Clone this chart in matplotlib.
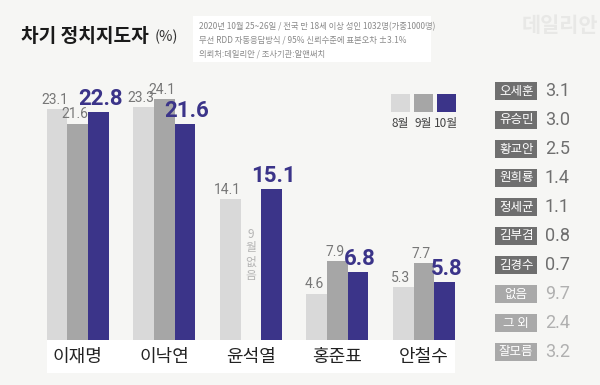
import numpy as np
import matplotlib
matplotlib.use('Agg')
import matplotlib.pyplot as plt
from matplotlib.patches import Rectangle

plt.rcParams['font.family'] = ['Noto Sans CJK KR', 'DejaVu Sans']

# main chart data
candidates = ['이재명', '이낙연', '윤석열', '홍준표', '안철수']
aug = [23.1, 23.3, 14.1, 4.6, 5.3]
sep = [21.6, 24.1, None, 7.9, 7.7]   # 윤석열: 9월 없음
octo = [22.8, 21.6, 15.1, 6.8, 5.8]
months = ['8월', '9월', '10월']

# right side list
others = ['오세훈', '유승민', '황교안', '원희룡', '정세균', '김부겸', '김경수', '없음', '그 외', '잘모름']
others_val = [3.1, 3.0, 2.5, 1.4, 1.1, 0.8, 0.7, 9.7, 2.4, 3.2]

bg = '#f6f6f4'
c_light = '#d9d9d9'
c_mid = '#a6a6a6'
c_navy = '#3b3489'
c_num = '#777777'

W, H = 600, 385
fig = plt.figure(figsize=(6, 3.85), dpi=100, facecolor=bg)


def fx(x):
    return x / W


def fy(y):
    return 1 - y / H


# title
fig.text(fx(21), fy(36), '차기 정치지도자', fontsize=13.8, fontweight='bold',
         color='#1a1a1a', va='center', ha='left')
fig.text(fx(155), fy(37), '(%)', fontsize=10.5, color='#333333', va='center', ha='left')

# info box
fig.patches.append(Rectangle((fx(193), fy(62)), fx(238), 46 / H, transform=fig.transFigure,
                             facecolor='white', edgecolor='none', zorder=0))
info = ['2020년 10월 25~26일 / 전국 만 18세 이상 성인 1032명(가중1000명)',
        '무선 RDD 자동응답방식 / 95% 신뢰수준에 표본오차 ±3.1%',
        '의뢰처:데일리안 / 조사기관:알앤써치']
for i, line in enumerate(info):
    fig.text(fx(199), fy(26.5 + 13.5 * i), line, fontsize=6.0, color='#8a8a8a',
             va='center', ha='left')

# watermark
fig.text(fx(560), fy(25), '데일리안', fontsize=15, fontweight='bold', color='#e8e8e6',
         va='center', ha='center')

# main axes
ax = fig.add_axes([fx(46.7), 45 / H, (455 - 46.7) / W, 250 / H])
ax.set_facecolor('none')
x = np.arange(len(candidates))
w = 0.239
series = [aug, sep, octo]
colors = [c_light, c_mid, c_navy]
for k, (vals, col) in enumerate(zip(series, colors)):
    xs = x + (k - 1) * w
    for xi, v in zip(xs, vals):
        if v is None:
            continue
        ax.bar(xi, v, width=w, color=col, linewidth=0)
        if k < 2:
            ax.text(xi - 0.03, v + 0.25, f'{v:.1f}', ha='center', va='bottom',
                    fontsize=10, color=c_num, family='Roboto')
        else:
            ax.text(xi + 0.02, v + 0.2, f'{v:.1f}', ha='center', va='bottom',
                    fontsize=16, fontweight='bold', color=c_navy, family='Roboto')

# "9월 없음" for 윤석열, stacked vertically
for j, ch in enumerate('9월없음'):
    ax.text(x[2], 10.6 - 1.4 * j, ch, ha='center', va='center', fontsize=8.5,
            color='#b5b5b5', rotation=0)

ax.set_xlim(-1.5 * w, x[-1] + 1.5 * w)
ax.set_ylim(0, 25)
ax.axis('off')

# category label band
axl = fig.add_axes([fx(46.7), 12 / H, (455 - 46.7) / W, 33 / H])
axl.set_facecolor('white')
axl.set_xlim(ax.get_xlim())
axl.set_ylim(0, 1)
for xi, name in zip(x, candidates):
    axl.text(xi, 0.48, name, ha='center', va='center', fontsize=13, color='#222222')
axl.set_xticks([])
axl.set_yticks([])
for s in axl.spines.values():
    s.set_visible(False)

# legend
for k, (m, col) in enumerate(zip(months, colors)):
    x0 = 391 + 23 * k
    fig.patches.append(Rectangle((fx(x0), fy(112)), 18.5 / W, 18 / H, transform=fig.transFigure,
                                 facecolor=col, edgecolor='none'))
    fig.text(fx(x0 + 9.2), fy(124), m, fontsize=8.5, color='#444444', ha='center', va='center')

# right panel
axr = fig.add_axes([fx(495), 18.5 / H, 105 / W, 290 / H])
axr.set_facecolor('none')
yy = np.arange(len(others))
box_cols = ['#6f6f6f'] * 7 + ['#a9a9a9'] * 3
val_cols = ['#6f6f6f'] * 7 + ['#b0b0b0'] * 3
axr.barh(yy, 42.3, left=0, height=0.62, color=box_cols, linewidth=0)
for yi, name, v, tc in zip(yy, others, others_val, val_cols):
    axr.text(21.2, yi, name, ha='center', va='center', fontsize=9, color='white')
    axr.text(50, yi, f'{v:.1f}', ha='left', va='center', fontsize=13, color=tc,
             family='Roboto')
axr.set_xlim(0, 105)
axr.set_ylim(len(others) - 0.5, -0.5)
axr.axis('off')

fig.savefig('out.png', dpi=100, facecolor=bg)
